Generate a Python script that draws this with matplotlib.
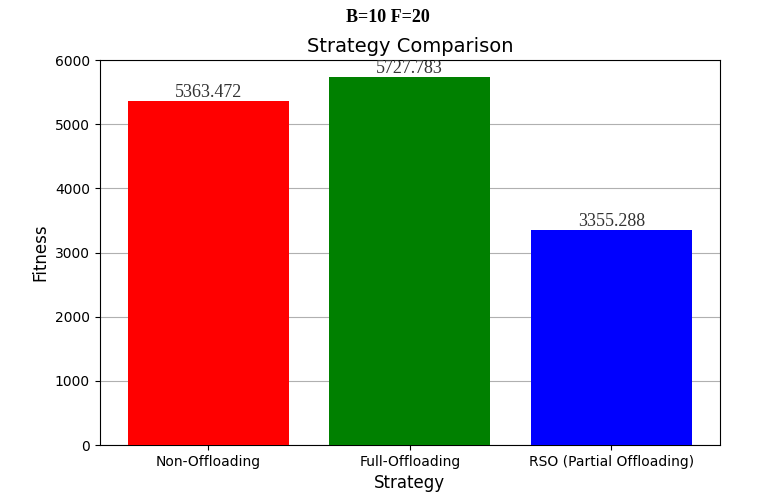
import matplotlib.pyplot as plt

strategies = ['Non-Offloading', 'Full-Offloading', 'RSO (Partial Offloading)']
fitness = [5363.472, 5727.783, 3355.288]
colors = ['red', 'green', 'blue']

fig = plt.figure(figsize=(7.75, 4.92), dpi=100)
ax = fig.add_axes([0.1285, 0.0955, 0.8005, 0.7825])
bars = ax.bar(strategies, fitness, color=colors, zorder=3)
for b, v in zip(bars, fitness):
    ax.text(b.get_x() + b.get_width() / 2, v, f'{v:.3f}', ha='center', va='bottom',
            fontsize=13, family='Liberation Serif', color='#333333', zorder=4)
ax.set_ylim(0, 6000)
ax.yaxis.grid(True, color='#b0b0b0', zorder=0)
ax.set_xlabel('Strategy', fontsize=12)
ax.set_ylabel('Fitness', fontsize=12)
ax.set_title('Strategy Comparison', fontsize=14)
fig.suptitle('B=10 F=20', fontsize=13, fontweight='bold', family='Liberation Serif', y=0.982)
fig.savefig('out.png', dpi=100)
